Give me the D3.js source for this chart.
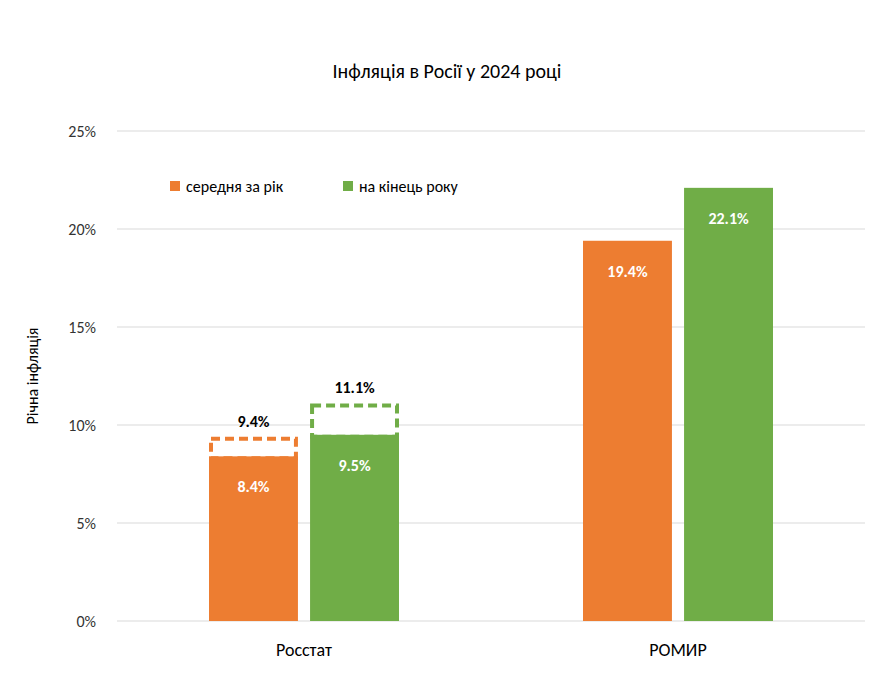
<!DOCTYPE html>
<html><head><meta charset="utf-8">
<script src="https://cdn.jsdelivr.net/npm/d3@7"></script>
<style>body{margin:0;background:#fff}text{font-family:Calibri,Carlito,"Liberation Sans",Arial,sans-serif}</style>
</head><body><svg id="c" width="894" height="693"></svg>
<script>
const sources = ["Росстат", "РОМИР"];
const seriesNames = ["середня за рік", "на кінець року"];
const colors = ["#ED7D31", "#70AD47"];
const solidValues = [[8.4, 9.5], [19.4, 22.1]];
const dashedValues = [[9.4, 11.1], [null, null]];
const yTicks = [0, 5, 10, 15, 20, 25];

const svg = d3.select("#c");
const y = d3.scaleLinear().domain([0, 25]).range([621, 131]);
const x0 = d3.scaleBand().domain(sources).range([117, 865]).paddingInner(0).paddingOuter(0);
const x1 = d3.scaleBand().domain([0, 1]).range([0, 190]).paddingInner(0.12);

svg.append("text").attr("x", 447).attr("y", 78).attr("text-anchor", "middle")
  .attr("font-size", 20).attr("fill", "#000").text("Інфляція в Росії у 2024 році");

svg.selectAll(".grid").data(yTicks).enter().append("line")
  .attr("x1", 117).attr("x2", 865).attr("y1", d => y(d)).attr("y2", d => y(d))
  .attr("stroke", "#d9d9d9").attr("stroke-width", 1);
svg.selectAll(".yl").data(yTicks).enter().append("text")
  .attr("x", 96).attr("y", d => y(d) + 6).attr("text-anchor", "end")
  .attr("font-size", 16).attr("fill", "#333").text(d => d + "%");

svg.append("text").attr("transform", "translate(38,376) rotate(-90)")
  .attr("text-anchor", "middle").attr("font-size", 16).attr("fill", "#000").text("Річна інфляція");

sources.forEach((s, i) => {
  const gx = x0(s) + x0.bandwidth() / 2 - 95;
  const g = svg.append("g").attr("transform", `translate(${gx},0)`);
  [0, 1].forEach(j => {
    const bx = x1(j), bw = x1.bandwidth();
    const dv = dashedValues[i][j], sv = solidValues[i][j];
    if (dv != null) {
      g.append("rect").attr("x", bx + 2).attr("width", bw - 4)
        .attr("y", y(dv) + 2).attr("height", y(sv) - y(dv))
        .attr("fill", "#fff").attr("stroke", colors[j]).attr("stroke-width", 4)
        .attr("stroke-dasharray", "9,5");
      g.append("text").attr("x", bx + bw / 2).attr("y", y(dv) - 10)
        .attr("text-anchor", "middle").attr("font-size", 16).attr("font-weight", "bold")
        .attr("fill", "#000").text(dv.toFixed(1) + "%");
    }
    g.append("rect").attr("x", bx).attr("width", bw)
      .attr("y", y(sv)).attr("height", y(0) - y(sv)).attr("fill", colors[j]);
    g.append("text").attr("x", bx + bw / 2).attr("y", y(sv) + 36)
      .attr("text-anchor", "middle").attr("font-size", 16).attr("font-weight", "bold")
      .attr("fill", "#fff").text(sv.toFixed(1) + "%");
  });
  svg.append("text").attr("x", gx + 95).attr("y", 656).attr("text-anchor", "middle")
    .attr("font-size", 18).attr("fill", "#000").text(s);
});

// legend
svg.append("clipPath").attr("id", "lc").append("rect").attr("x", 160).attr("y", 170).attr("width", 158).attr("height", 30);
const lg = [{x: 170, clip: true}, {x: 343, clip: false}];
seriesNames.forEach((n, j) => {
  const g = svg.append("g");
  if (lg[j].clip) g.attr("clip-path", "url(#lc)");
  g.append("rect").attr("x", lg[j].x).attr("y", 181).attr("width", 10).attr("height", 10).attr("fill", colors[j]);
  g.append("text").attr("x", lg[j].x + 16).attr("y", 192).attr("font-size", 16).attr("fill", "#000").text(n);
});
</script></body></html>
